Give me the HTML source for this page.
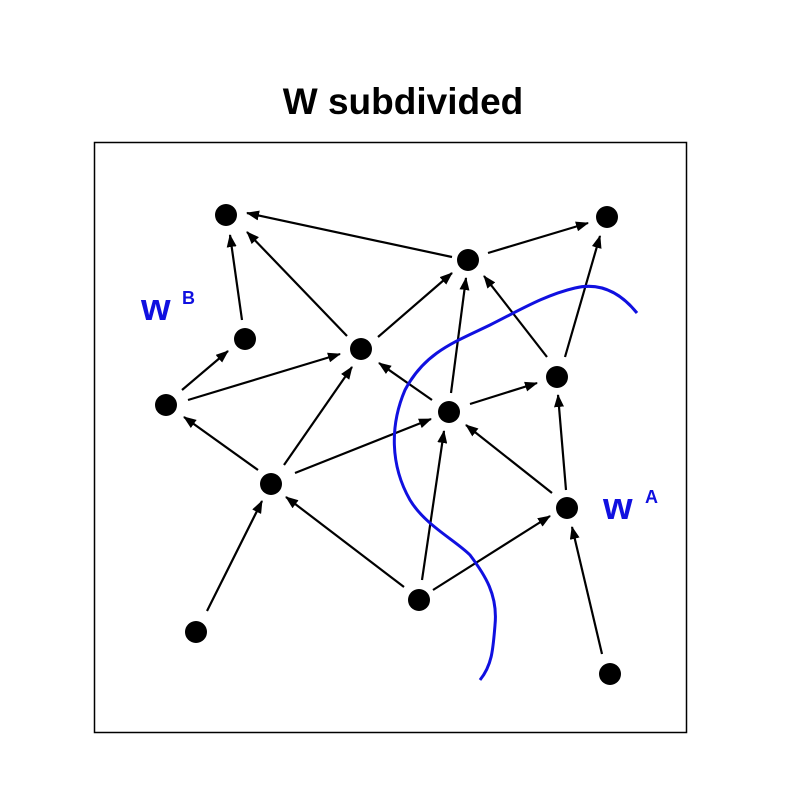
<!DOCTYPE html>
<html><head><meta charset="utf-8"><style>body{margin:0;background:#fff}svg{display:block}</style></head><body>
<svg width="800" height="800" viewBox="0 0 800 800" xmlns="http://www.w3.org/2000/svg">
<defs><marker id="a" markerWidth="13" markerHeight="10" refX="12" refY="5" orient="auto" markerUnits="userSpaceOnUse"><path d="M0,0 L13,5 L0,10 Z" fill="#000"/></marker></defs>
<text x="403" y="114" text-anchor="middle" font-family="Liberation Sans, sans-serif" font-weight="bold" font-size="37">W subdivided</text>
<rect x="94.5" y="142.5" width="592" height="590" fill="none" stroke="#000" stroke-width="1.5"/>
<g stroke="#000" stroke-width="2.2" marker-end="url(#a)">
<line x1="452" y1="257" x2="247" y2="213"/>
<line x1="488" y1="253" x2="588" y2="223"/>
<line x1="242" y1="320" x2="230" y2="235"/>
<line x1="347" y1="336" x2="247" y2="232"/>
<line x1="378" y1="337" x2="452" y2="273"/>
<line x1="182" y1="390" x2="228" y2="351"/>
<line x1="188" y1="400" x2="340" y2="354"/>
<line x1="258" y1="470" x2="184" y2="417"/>
<line x1="284" y1="465" x2="352" y2="367"/>
<line x1="295" y1="473" x2="431" y2="419"/>
<line x1="432" y1="400" x2="379" y2="363"/>
<line x1="451" y1="393" x2="466" y2="278"/>
<line x1="547" y1="357" x2="484" y2="276"/>
<line x1="565" y1="357" x2="600" y2="236"/>
<line x1="470" y1="404" x2="537" y2="383"/>
<line x1="552" y1="493" x2="466" y2="425"/>
<line x1="566" y1="490" x2="558" y2="395"/>
<line x1="404" y1="587" x2="286" y2="497"/>
<line x1="422" y1="580" x2="444" y2="431"/>
<line x1="433" y1="590" x2="550" y2="516"/>
<line x1="207" y1="611" x2="262" y2="501"/>
<line x1="602" y1="654" x2="572" y2="527"/>
</g>
<g fill="#000">
<circle cx="226" cy="215" r="11"/><circle cx="607" cy="217" r="11"/><circle cx="468" cy="260" r="11"/>
<circle cx="245" cy="339" r="11"/><circle cx="361" cy="349" r="11"/><circle cx="166" cy="405" r="11"/>
<circle cx="557" cy="377" r="11"/><circle cx="449" cy="412" r="11"/><circle cx="271" cy="484" r="11"/>
<circle cx="567" cy="508" r="11"/><circle cx="419" cy="600" r="11"/><circle cx="196" cy="632" r="11"/>
<circle cx="610" cy="674" r="11"/>
</g>
<path d="M637,313 C620,292 600,282 575,288 C545,295 520,310 490,325 C455,342 425,352 405,390 C390,425 390,465 410,500 C425,525 455,540 470,555 C485,575 498,595 495,625 C493,650 492,665 480,680" fill="none" stroke="#1010e0" stroke-width="3"/>
<text x="141" y="320" font-family="Liberation Sans, sans-serif" font-weight="bold" font-size="38" fill="#1010e0">w</text>
<text x="182" y="304" font-family="Liberation Sans, sans-serif" font-weight="bold" font-size="18" fill="#1010e0">B</text>
<text x="603" y="519" font-family="Liberation Sans, sans-serif" font-weight="bold" font-size="38" fill="#1010e0">w</text>
<text x="645" y="503" font-family="Liberation Sans, sans-serif" font-weight="bold" font-size="18" fill="#1010e0">A</text>
</svg>
</body></html>
